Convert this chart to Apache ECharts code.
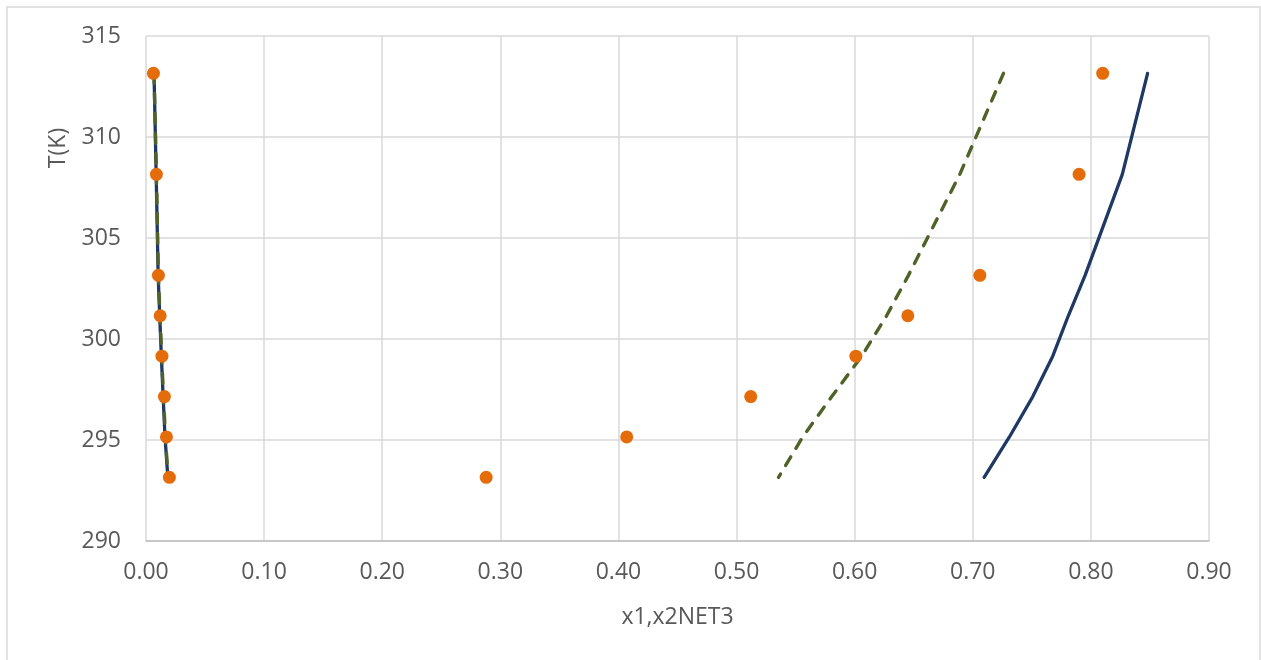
<!DOCTYPE html>
<html>
<head>
<meta charset="utf-8">
<title>T(K) vs x1,x2NET3</title>
<script src="https://cdn.jsdelivr.net/npm/echarts@6/dist/echarts.min.js"></script>
<style>
  html, body { margin: 0; padding: 0; background: #ffffff; }
  #chart { width: 1261px; height: 660px; }
</style>
</head>
<body>
<div id="chart"></div>
<script>
// Temperatures (K) of the measured points
const temps = [313.15, 308.15, 303.15, 301.15, 299.15, 297.15, 295.15, 293.15];

// Experimental compositions: phase 1 (x1) and phase 2 (x2)
const expPhase1 = [0.0063, 0.0088, 0.0105, 0.0120, 0.0135, 0.0156, 0.0173, 0.0198];
const expPhase2 = [0.810, 0.790, 0.706, 0.645, 0.601, 0.512, 0.407, 0.288];

// Model A (solid)
const modelAPhase1 = [0.0068, 0.0086, 0.0103, 0.0116, 0.0130, 0.0145, 0.0161, 0.0185];
const modelAPhase2 = [0.848, 0.8266, 0.7951, 0.7809, 0.7677, 0.7508, 0.731, 0.7096];

// Model B (dashed)
const modelBPhase1 = [0.0068, 0.0088, 0.0105, 0.0118, 0.0133, 0.0148, 0.0165, 0.0186];
const modelBPhase2 = [0.726, 0.689, 0.6455, 0.627, 0.606, 0.5806, 0.556, 0.5355];

// Axis ticks
const xTicks = { min: 0, max: 0.9, step: 0.1 };
const yTicks = { min: 290, max: 315, step: 5 };

const pair = (xs) => xs.map((x, i) => [x, temps[i]]);

const FONT = '"Open Sans", "Noto Sans", sans-serif';
const TEXT = '#595959';
const BLUE = '#1f3864';
const GREEN = '#4f6228';
const ORANGE = '#e46c0a';

const solid = (name, xs) => ({
  name, type: 'line', data: pair(xs), showSymbol: false, symbol: 'none',
  lineStyle: { color: BLUE, width: 3.3, cap: 'round', join: 'round' }, z: 2, silent: true
});
const dashed = (name, xs) => ({
  name, type: 'line', data: pair(xs), showSymbol: false, symbol: 'none',
  lineStyle: { color: GREEN, width: 3.4, type: [10, 10], cap: 'round' }, z: 3, silent: true
});
const points = (name, xs) => ({
  name, type: 'scatter', data: pair(xs), symbol: 'circle', symbolSize: 13,
  itemStyle: { color: ORANGE, opacity: 1 }, z: 4
});

const chart = echarts.init(document.getElementById('chart'), null, { renderer: 'canvas' });
chart.setOption({
  animation: false,
  backgroundColor: '#ffffff',
  grid: { left: 146, right: 52, top: 36, bottom: 119, containLabel: false },
  xAxis: {
    type: 'value',
    min: xTicks.min, max: xTicks.max, interval: xTicks.step,
    name: 'x1,x2NET3',
    nameLocation: 'middle',
    nameGap: 65,
    nameTextStyle: { color: TEXT, fontFamily: FONT, fontSize: 23 },
    axisLine: { show: true, onZero: false, lineStyle: { color: '#bfbfbf', width: 1.5 } },
    axisTick: { show: false },
    axisLabel: {
      color: TEXT, fontFamily: FONT, fontSize: 23, margin: 20,
      formatter: (v) => v.toFixed(2)
    },
    splitLine: { show: true, lineStyle: { color: '#d9d9d9', width: 1.5 } }
  },
  yAxis: {
    type: 'value',
    min: yTicks.min, max: yTicks.max, interval: yTicks.step,
    axisLine: { show: false },
    axisTick: { show: false },
    axisLabel: { color: TEXT, fontFamily: FONT, fontSize: 23, margin: 25 },
    splitLine: { show: true, lineStyle: { color: '#d9d9d9', width: 1.5 } }
  },
  graphic: [
    {
      type: 'rect', silent: true, z: -10,
      shape: { x: 7, y: 7, width: 1253, height: 680 },
      style: { fill: 'none', stroke: '#d9d9d9', lineWidth: 1.5 }
    },
    {
      type: 'text', silent: true,
      x: 58, y: 148, rotation: Math.PI / 2,
      style: {
        text: 'T(K)', fill: TEXT, font: '23px ' + FONT,
        align: 'center', verticalAlign: 'middle'
      }
    }
  ],
  series: [
    solid('Model A x1', modelAPhase1),
    solid('Model A x2', modelAPhase2),
    dashed('Model B x1', modelBPhase1),
    dashed('Model B x2', modelBPhase2),
    points('Exp x1', expPhase1),
    points('Exp x2', expPhase2)
  ]
});
</script>
</body>
</html>
